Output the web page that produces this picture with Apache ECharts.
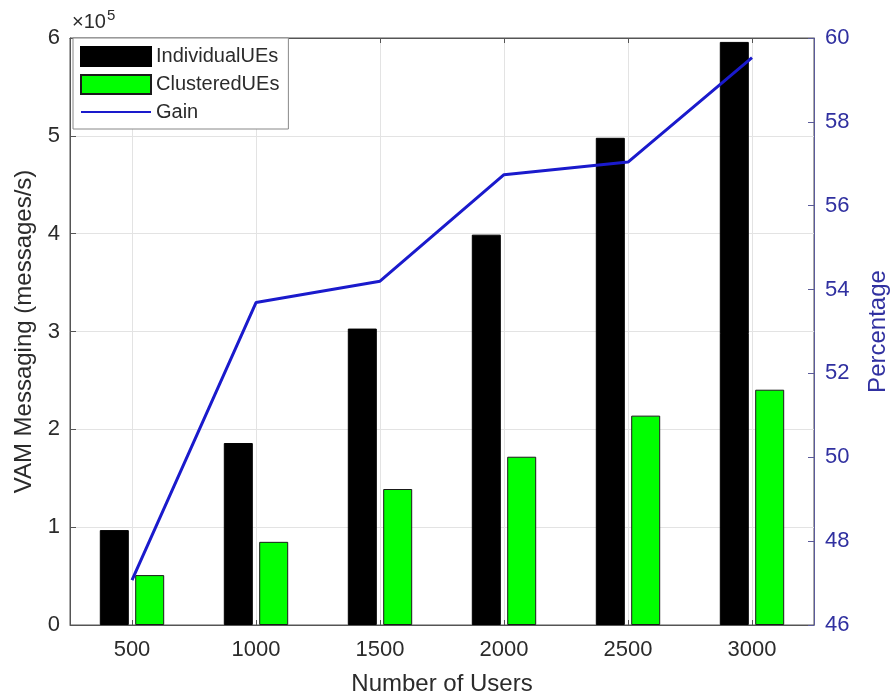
<!DOCTYPE html>
<html><head><meta charset="utf-8">
<script src="https://cdn.jsdelivr.net/npm/echarts@6/dist/echarts.min.js"></script>
<style>html,body{margin:0;padding:0;background:#fff}#c{width:890px;height:696px}</style>
</head><body><div id="c"></div>
<script>
const categories = ['500', '1000', '1500', '2000', '2500', '3000'];
const individualUEs = [97000, 186000, 303000, 399000, 498000, 596000];
const clusteredUEs = [51000, 85000, 139000, 172000, 214000, 240500];
const gain = [47.07, 53.69, 54.2, 56.74, 57.04, 59.53];
const leftTicks = [0, 1, 2, 3, 4, 5, 6];
const rightTicks = [46, 48, 50, 52, 54, 56, 58, 60];

const FONT = 'Liberation Sans';
const TXT = '#2b2b2b';
const BLUE_TXT = '#3030a0';
const chart = echarts.init(document.getElementById('c'));
chart.setOption({
  backgroundColor: '#fff',
  textStyle: { fontFamily: FONT },
  grid: { left: 70, right: 76, top: 38, bottom: 71, containLabel: false, outerBoundsMode: 'none',
    show: true, borderColor: '#555', borderWidth: 1, backgroundColor: 'transparent' },
  legend: {
    orient: 'vertical', left: 73, top: 38,
    itemWidth: 70, itemHeight: 19, itemGap: 7,
    padding: [8, 9, 7, 7],
    backgroundColor: '#fff', borderColor: '#888', borderWidth: 1,
    textStyle: { fontSize: 20, color: TXT, fontFamily: FONT },
    data: [
      { name: 'IndividualUEs', icon: 'rect' },
      { name: 'ClusteredUEs', icon: 'rect' },
      { name: 'Gain', itemStyle: { opacity: 0 } }
    ]
  },
  graphic: [{
    type: 'text', left: 72, top: 8,
    style: {
      text: '×10{s|5}', fontSize: 20, fill: TXT, fontFamily: FONT,
      rich: { s: { fontSize: 15, verticalAlign: 'top', padding: [0, 0, 13, 1], fill: TXT, fontFamily: FONT } }
    }
  }],
  xAxis: [{
    type: 'category', data: categories,
    name: 'Number of Users', nameLocation: 'middle', nameGap: 47,
    nameTextStyle: { fontSize: 24, color: TXT },
    axisLine: { lineStyle: { color: '#555' } },
    axisTick: { show: true, inside: true, alignWithLabel: true, length: 5, lineStyle: { color: '#555' } },
    axisLabel: { fontSize: 22, color: TXT, margin: 14 },
    splitLine: { show: true, alignWithLabel: true, lineStyle: { color: '#e3e3e3' } }
  }, {
    type: 'category', data: categories, position: 'top',
    axisLine: { show: true, lineStyle: { color: '#555' } },
    axisTick: { show: true, inside: true, alignWithLabel: true, length: 5, lineStyle: { color: '#555' } },
    axisLabel: { show: false },
    splitLine: { show: false }
  }],
  yAxis: [{
    type: 'value', min: 0, max: 600000, interval: 100000,
    name: 'VAM Messaging (messages/s)', nameLocation: 'middle', nameGap: 27,
    nameTextStyle: { fontSize: 24, color: TXT },
    axisLine: { show: true, lineStyle: { color: '#555' } },
    axisTick: { show: true, inside: true, length: 6, lineStyle: { color: '#555' } },
    axisLabel: { fontSize: 22, color: TXT, margin: 10, formatter: v => String(leftTicks[Math.round(v / 100000)]) },
    splitLine: { show: true, lineStyle: { color: '#e3e3e3' } }
  }, {
    type: 'value', min: 46, max: 60, interval: 2, position: 'right',
    name: 'Percentage', nameLocation: 'middle', nameGap: 52, nameRotate: 90,
    nameTextStyle: { fontSize: 24, color: BLUE_TXT },
    axisLine: { show: true, lineStyle: { color: '#5a5a9a' } },
    axisTick: { show: true, inside: true, length: 6, lineStyle: { color: '#5a5a9a' } },
    axisLabel: { fontSize: 22, color: BLUE_TXT, margin: 11, formatter: v => String(rightTicks[Math.round((v - 46) / 2)]) },
    splitLine: { show: false }
  }],
  series: [{
    name: 'IndividualUEs', type: 'bar', data: individualUEs, yAxisIndex: 0,
    barWidth: 29, barGap: '22%',
    itemStyle: { color: '#000', borderColor: '#000', borderWidth: 1 }
  }, {
    name: 'ClusteredUEs', type: 'bar', data: clusteredUEs, yAxisIndex: 0,
    barWidth: 29, barGap: '22%',
    itemStyle: { color: '#00ff00', borderColor: '#1a1a1a', borderWidth: 1 }
  }, {
    name: 'Gain', type: 'line', data: gain, yAxisIndex: 1,
    symbol: 'none', showSymbol: false, z: 5,
    lineStyle: { color: '#1a1acc', width: 3 },
    itemStyle: { color: '#1a1acc' }
  }],
  animation: false
});
</script></body></html>
